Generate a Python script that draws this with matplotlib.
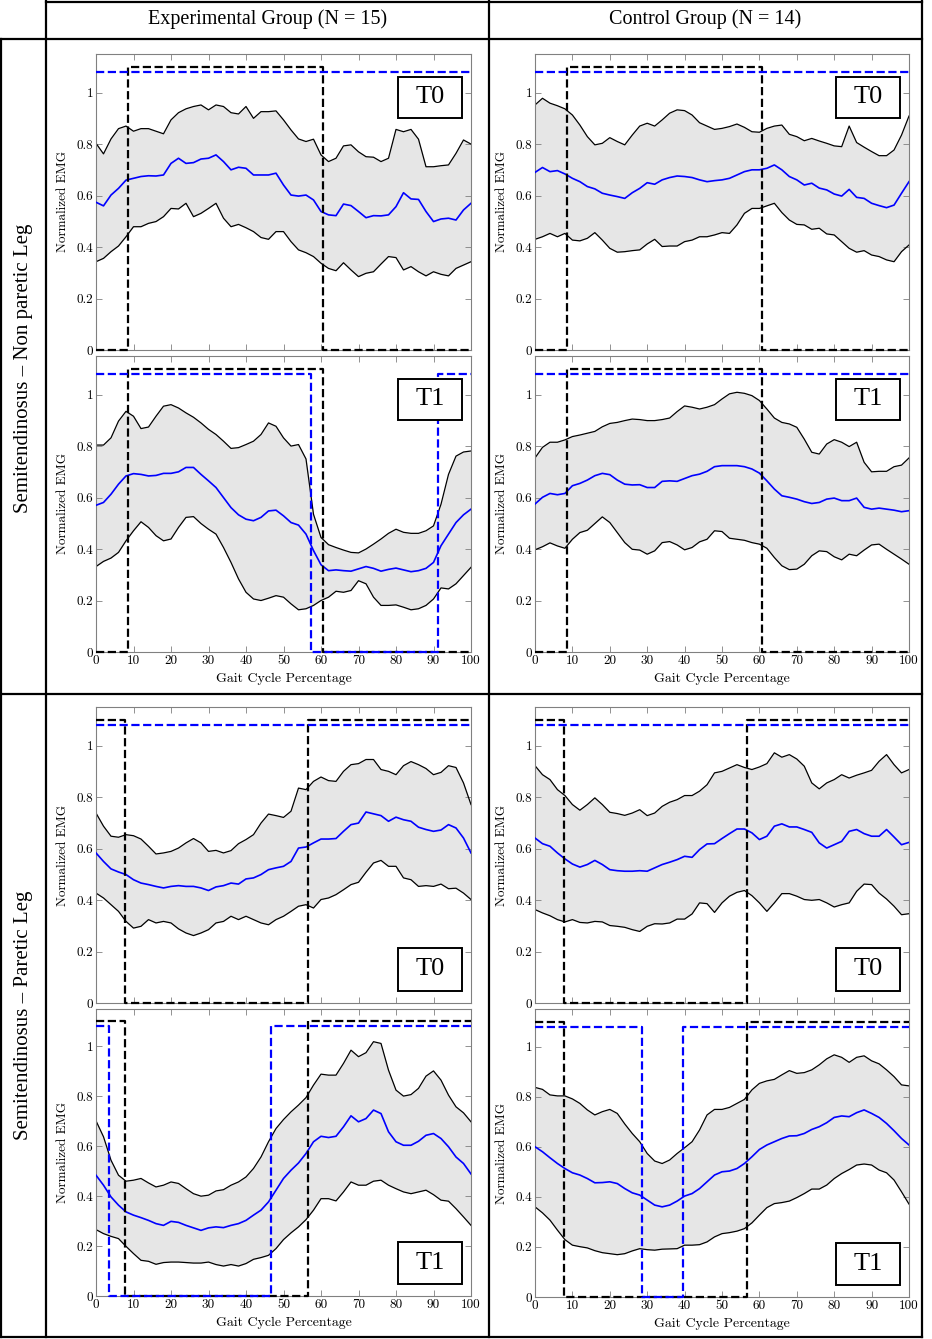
import matplotlib
matplotlib.use('Agg')
import matplotlib.pyplot as plt
from matplotlib.lines import Line2D
from matplotlib.patches import Rectangle

plt.rcParams['axes.unicode_minus'] = False

# ---------------- data ----------------
gait_pct = list(range(0, 101, 2))

col_titles = ['Experimental Group (N = 15)', 'Control Group (N = 14)']
row_titles = ['Semitendinosus \u2013 Non paretic Leg', 'Semitendinosus \u2013 Paretic Leg']
session_labels = ['T0', 'T1']
x_ticks = [0, 10, 20, 30, 40, 50, 60, 70, 80, 90, 100]
x_tick_labels = ['0', '10', '20', '30', '40', '50', '60', '70', '80', '90', '100']
y_ticks = [0, 0.2, 0.4, 0.6, 0.8, 1.0]
y_tick_labels = ['0', '0.2', '0.4', '0.6', '0.8', '1']
x_label = 'Gait Cycle Percentage'
y_label = 'Normalized EMG'

# Experimental, non paretic, T0
exp_np_t0_upper = [0.803, 0.762, 0.82, 0.86, 0.87, 0.85, 0.86, 0.86, 0.85, 0.84,
                   0.894, 0.922, 0.937, 0.946, 0.952, 0.933, 0.952, 0.946, 0.922, 0.917,
                   0.946, 0.90, 0.926, 0.926, 0.929, 0.894, 0.855, 0.82, 0.81, 0.819,
                   0.758, 0.732, 0.745, 0.793, 0.797, 0.77, 0.751, 0.749, 0.732, 0.745,
                   0.857, 0.848, 0.857, 0.819, 0.712, 0.712, 0.716, 0.719, 0.764, 0.816,
                   0.80]
exp_np_t0_mean = [0.574, 0.56, 0.602, 0.628, 0.66, 0.667, 0.674, 0.677, 0.676, 0.68,
                  0.725, 0.745, 0.725, 0.728, 0.742, 0.745, 0.758, 0.732, 0.70, 0.71,
                  0.706, 0.68, 0.68, 0.68, 0.687, 0.641, 0.602, 0.598, 0.602, 0.583,
                  0.538, 0.525, 0.522, 0.567, 0.561, 0.538, 0.514, 0.522, 0.521, 0.525,
                  0.557, 0.611, 0.587, 0.585, 0.538, 0.499, 0.509, 0.512, 0.505, 0.544,
                  0.57]
exp_np_t0_lower = [0.343, 0.356, 0.382, 0.404, 0.44, 0.479, 0.479, 0.492, 0.499, 0.518,
                   0.55, 0.548, 0.57, 0.518, 0.531, 0.55, 0.57, 0.512, 0.479, 0.488,
                   0.475, 0.46, 0.437, 0.43, 0.46, 0.46, 0.421, 0.389, 0.378, 0.363,
                   0.337, 0.317, 0.308, 0.339, 0.311, 0.285, 0.298, 0.304, 0.334, 0.363,
                   0.359, 0.311, 0.324, 0.304, 0.288, 0.304, 0.294, 0.288, 0.317, 0.33,
                   0.343]

# Experimental, non paretic, T1
exp_np_t1_upper = [0.804, 0.804, 0.832, 0.897, 0.935, 0.916, 0.868, 0.874, 0.916, 0.955,
                   0.961, 0.948, 0.929, 0.912, 0.89, 0.865, 0.845, 0.819, 0.791, 0.794,
                   0.806, 0.819, 0.845, 0.89, 0.877, 0.832, 0.80, 0.806, 0.75, 0.535,
                   0.445, 0.417, 0.406, 0.396, 0.387, 0.385, 0.40, 0.419, 0.439, 0.461,
                   0.477, 0.465, 0.461, 0.461, 0.471, 0.49, 0.574, 0.69, 0.761, 0.777,
                   0.781]
exp_np_t1_mean = [0.57, 0.581, 0.613, 0.652, 0.684, 0.693, 0.69, 0.684, 0.686, 0.694,
                  0.694, 0.70, 0.717, 0.717, 0.69, 0.665, 0.639, 0.60, 0.561, 0.533,
                  0.516, 0.51, 0.523, 0.548, 0.551, 0.529, 0.503, 0.493, 0.458, 0.394,
                  0.339, 0.316, 0.319, 0.316, 0.314, 0.323, 0.332, 0.325, 0.314, 0.321,
                  0.326, 0.319, 0.312, 0.316, 0.325, 0.348, 0.413, 0.458, 0.503, 0.533,
                  0.555]
exp_np_t1_lower = [0.332, 0.352, 0.365, 0.387, 0.432, 0.471, 0.506, 0.484, 0.452, 0.432,
                   0.439, 0.484, 0.523, 0.526, 0.499, 0.477, 0.458, 0.406, 0.348, 0.284,
                   0.232, 0.206, 0.20, 0.209, 0.219, 0.213, 0.187, 0.164, 0.168, 0.181,
                   0.20, 0.213, 0.236, 0.232, 0.239, 0.277, 0.265, 0.213, 0.181, 0.181,
                   0.183, 0.174, 0.164, 0.168, 0.181, 0.206, 0.249, 0.245, 0.265, 0.297,
                   0.329]

# Control, non paretic, T0
ctl_np_t0_upper = [0.952, 0.978, 0.959, 0.949, 0.937, 0.913, 0.874, 0.829, 0.797, 0.803,
                   0.825, 0.81, 0.797, 0.835, 0.87, 0.881, 0.87, 0.894, 0.92, 0.933,
                   0.93, 0.913, 0.883, 0.87, 0.857, 0.861, 0.868, 0.878, 0.865, 0.848,
                   0.846, 0.861, 0.87, 0.874, 0.838, 0.829, 0.813, 0.822, 0.812, 0.803,
                   0.793, 0.79, 0.87, 0.806, 0.788, 0.771, 0.755, 0.755, 0.777, 0.835,
                   0.909]
ctl_np_t0_mean = [0.69, 0.709, 0.693, 0.697, 0.684, 0.667, 0.654, 0.635, 0.626, 0.609,
                  0.602, 0.596, 0.589, 0.611, 0.628, 0.65, 0.644, 0.661, 0.67, 0.676,
                  0.674, 0.67, 0.661, 0.654, 0.658, 0.661, 0.667, 0.68, 0.693, 0.70,
                  0.70, 0.706, 0.719, 0.70, 0.674, 0.661, 0.641, 0.648, 0.629, 0.622,
                  0.606, 0.598, 0.624, 0.593, 0.589, 0.57, 0.561, 0.553, 0.563, 0.609,
                  0.654]
ctl_np_t0_lower = [0.43, 0.44, 0.453, 0.44, 0.453, 0.427, 0.424, 0.434, 0.456, 0.427,
                   0.395, 0.38, 0.382, 0.386, 0.389, 0.412, 0.43, 0.402, 0.404, 0.404,
                   0.421, 0.427, 0.44, 0.44, 0.447, 0.456, 0.453, 0.486, 0.531, 0.55,
                   0.55, 0.56, 0.57, 0.534, 0.505, 0.488, 0.486, 0.469, 0.473, 0.451,
                   0.447, 0.421, 0.395, 0.38, 0.386, 0.369, 0.363, 0.35, 0.343, 0.382,
                   0.408]

# Control, non paretic, T1
ctl_np_t1_upper = [0.754, 0.795, 0.815, 0.815, 0.824, 0.837, 0.843, 0.85, 0.857, 0.875,
                   0.888, 0.892, 0.899, 0.905, 0.903, 0.899, 0.899, 0.903, 0.909, 0.934,
                   0.956, 0.951, 0.944, 0.951, 0.961, 0.983, 1.003, 1.009, 1.005, 0.996,
                   0.977, 0.944, 0.909, 0.892, 0.886, 0.873, 0.827, 0.776, 0.769, 0.808,
                   0.825, 0.815, 0.798, 0.815, 0.737, 0.70, 0.702, 0.702, 0.72, 0.726,
                   0.754]
ctl_np_t1_mean = [0.575, 0.601, 0.616, 0.611, 0.616, 0.646, 0.655, 0.668, 0.685, 0.694,
                  0.689, 0.668, 0.652, 0.649, 0.65, 0.639, 0.639, 0.663, 0.665, 0.663,
                  0.674, 0.685, 0.691, 0.702, 0.72, 0.724, 0.724, 0.724, 0.72, 0.711,
                  0.695, 0.665, 0.633, 0.607, 0.601, 0.594, 0.584, 0.577, 0.581, 0.594,
                  0.598, 0.588, 0.588, 0.598, 0.562, 0.555, 0.559, 0.555, 0.551, 0.545,
                  0.549]
ctl_np_t1_lower = [0.397, 0.409, 0.424, 0.412, 0.403, 0.438, 0.464, 0.473, 0.499, 0.525,
                   0.503, 0.464, 0.425, 0.399, 0.396, 0.38, 0.393, 0.425, 0.429, 0.416,
                   0.397, 0.406, 0.428, 0.438, 0.471, 0.468, 0.442, 0.438, 0.434, 0.425,
                   0.419, 0.403, 0.367, 0.335, 0.32, 0.322, 0.341, 0.374, 0.393, 0.39,
                   0.37, 0.358, 0.38, 0.374, 0.396, 0.416, 0.419, 0.399, 0.38, 0.361,
                   0.341]

# Experimental, paretic, T0
exp_p_t0_upper = [0.738, 0.687, 0.648, 0.644, 0.654, 0.65, 0.637, 0.609, 0.579, 0.583,
                  0.589, 0.602, 0.622, 0.639, 0.622, 0.589, 0.593, 0.583, 0.592, 0.619,
                  0.635, 0.654, 0.699, 0.734, 0.728, 0.721, 0.745, 0.835, 0.829, 0.861,
                  0.878, 0.864, 0.861, 0.90, 0.926, 0.93, 0.946, 0.946, 0.907, 0.90,
                  0.887, 0.922, 0.938, 0.926, 0.911, 0.887, 0.896, 0.922, 0.915, 0.855,
                  0.771]
exp_p_t0_mean = [0.583, 0.55, 0.521, 0.509, 0.499, 0.479, 0.466, 0.46, 0.453, 0.447,
                 0.453, 0.456, 0.453, 0.453, 0.447, 0.437, 0.451, 0.456, 0.466, 0.462,
                 0.482, 0.486, 0.499, 0.518, 0.525, 0.531, 0.55, 0.602, 0.606, 0.622,
                 0.637, 0.637, 0.639, 0.667, 0.693, 0.699, 0.742, 0.735, 0.728, 0.706,
                 0.722, 0.712, 0.706, 0.683, 0.674, 0.667, 0.672, 0.693, 0.68, 0.641,
                 0.583]
exp_p_t0_lower = [0.427, 0.408, 0.382, 0.356, 0.317, 0.291, 0.298, 0.324, 0.311, 0.317,
                  0.311, 0.288, 0.272, 0.262, 0.272, 0.285, 0.311, 0.317, 0.337, 0.324,
                  0.337, 0.324, 0.311, 0.304, 0.324, 0.337, 0.356, 0.376, 0.382, 0.369,
                  0.402, 0.408, 0.421, 0.44, 0.46, 0.469, 0.508, 0.544, 0.554, 0.531,
                  0.531, 0.486, 0.479, 0.453, 0.456, 0.453, 0.462, 0.444, 0.446, 0.427,
                  0.402]

# Experimental, paretic, T1
exp_p_t1_upper = [0.702, 0.638, 0.544, 0.484, 0.46, 0.464, 0.471, 0.453, 0.437, 0.444,
                  0.457, 0.451, 0.43, 0.41, 0.40, 0.404, 0.421, 0.426, 0.444, 0.457,
                  0.477, 0.511, 0.557, 0.618, 0.671, 0.707, 0.738, 0.765, 0.795, 0.845,
                  0.889, 0.885, 0.885, 0.932, 0.985, 0.959, 0.975, 1.019, 1.012, 0.905,
                  0.825, 0.801, 0.807, 0.832, 0.881, 0.902, 0.865, 0.805, 0.758, 0.734,
                  0.698]
exp_p_t1_mean = [0.484, 0.444, 0.397, 0.364, 0.337, 0.324, 0.314, 0.303, 0.29, 0.283,
                 0.299, 0.295, 0.283, 0.273, 0.263, 0.273, 0.277, 0.274, 0.283, 0.29,
                 0.303, 0.324, 0.344, 0.377, 0.424, 0.471, 0.504, 0.533, 0.571, 0.618,
                 0.64, 0.635, 0.64, 0.678, 0.722, 0.698, 0.711, 0.745, 0.731, 0.658,
                 0.618, 0.604, 0.604, 0.62, 0.644, 0.651, 0.631, 0.598, 0.557, 0.531,
                 0.489]
exp_p_t1_lower = [0.266, 0.25, 0.239, 0.23, 0.199, 0.17, 0.143, 0.139, 0.127, 0.134,
                  0.136, 0.136, 0.134, 0.132, 0.132, 0.136, 0.126, 0.12, 0.126, 0.12,
                  0.13, 0.147, 0.154, 0.163, 0.19, 0.226, 0.253, 0.277, 0.306, 0.344,
                  0.39, 0.39, 0.381, 0.417, 0.457, 0.444, 0.444, 0.46, 0.464, 0.444,
                  0.43, 0.417, 0.41, 0.417, 0.424, 0.406, 0.384, 0.38, 0.35, 0.317,
                  0.283]

# Control, paretic, T0
ctl_p_t0_upper = [0.922, 0.887, 0.868, 0.829, 0.806, 0.771, 0.749, 0.771, 0.797, 0.771,
                  0.741, 0.736, 0.729, 0.738, 0.751, 0.728, 0.738, 0.764, 0.78, 0.79,
                  0.806, 0.806, 0.823, 0.848, 0.894, 0.90, 0.913, 0.926, 0.915, 0.907,
                  0.917, 0.93, 0.972, 0.955, 0.965, 0.948, 0.92, 0.855, 0.832, 0.855,
                  0.868, 0.887, 0.874, 0.885, 0.894, 0.904, 0.939, 0.965, 0.926, 0.894,
                  0.907]
ctl_p_t0_mean = [0.641, 0.619, 0.609, 0.583, 0.56, 0.54, 0.528, 0.538, 0.554, 0.538,
                 0.518, 0.514, 0.512, 0.512, 0.514, 0.512, 0.525, 0.538, 0.547, 0.557,
                 0.57, 0.566, 0.596, 0.618, 0.619, 0.639, 0.658, 0.676, 0.676, 0.661,
                 0.635, 0.648, 0.687, 0.696, 0.684, 0.684, 0.674, 0.663, 0.622, 0.602,
                 0.615, 0.628, 0.667, 0.674, 0.658, 0.648, 0.648, 0.674, 0.645, 0.615,
                 0.624]
ctl_p_t0_lower = [0.363, 0.35, 0.339, 0.324, 0.315, 0.324, 0.313, 0.311, 0.317, 0.315,
                  0.301, 0.298, 0.294, 0.285, 0.278, 0.298, 0.308, 0.307, 0.311, 0.326,
                  0.326, 0.346, 0.389, 0.386, 0.352, 0.389, 0.415, 0.43, 0.437, 0.417,
                  0.389, 0.356, 0.389, 0.425, 0.425, 0.415, 0.402, 0.399, 0.402, 0.389,
                  0.373, 0.382, 0.389, 0.434, 0.462, 0.46, 0.427, 0.404, 0.376, 0.343,
                  0.347]

# Control, paretic, T1
ctl_p_t1_upper = [0.837, 0.829, 0.807, 0.803, 0.803, 0.791, 0.773, 0.747, 0.727, 0.74,
                  0.749, 0.733, 0.691, 0.653, 0.62, 0.573, 0.543, 0.533, 0.547, 0.573,
                  0.596, 0.62, 0.667, 0.727, 0.749, 0.749, 0.757, 0.773, 0.789, 0.827,
                  0.853, 0.863, 0.869, 0.887, 0.904, 0.893, 0.896, 0.907, 0.927, 0.951,
                  0.967, 0.957, 0.937, 0.957, 0.963, 0.943, 0.931, 0.907, 0.88, 0.847,
                  0.843]
ctl_p_t1_mean = [0.60, 0.58, 0.556, 0.533, 0.513, 0.496, 0.487, 0.473, 0.456, 0.457,
                 0.46, 0.453, 0.433, 0.416, 0.407, 0.387, 0.367, 0.36, 0.367, 0.383,
                 0.403, 0.413, 0.433, 0.46, 0.487, 0.50, 0.503, 0.513, 0.533, 0.56,
                 0.589, 0.607, 0.62, 0.633, 0.643, 0.644, 0.653, 0.669, 0.68, 0.696,
                 0.717, 0.723, 0.72, 0.736, 0.747, 0.733, 0.717, 0.693, 0.664, 0.633,
                 0.607]
ctl_p_t1_lower = [0.36, 0.336, 0.307, 0.267, 0.229, 0.207, 0.201, 0.196, 0.185, 0.177,
                  0.173, 0.169, 0.173, 0.184, 0.193, 0.189, 0.187, 0.191, 0.192, 0.193,
                  0.207, 0.207, 0.209, 0.22, 0.24, 0.253, 0.257, 0.263, 0.273, 0.296,
                  0.327, 0.357, 0.373, 0.377, 0.383, 0.397, 0.413, 0.431, 0.431, 0.447,
                  0.473, 0.493, 0.509, 0.527, 0.531, 0.527, 0.507, 0.496, 0.467, 0.42,
                  0.371]

# Activation phases (gait %, where the on/off state switches) and starting state
exp_np_t0_ref_switch, exp_np_t0_ref_on = [8.5, 60.6], False
exp_np_t0_act_switch, exp_np_t0_act_on = [], True
exp_np_t1_ref_switch, exp_np_t1_ref_on = [8.5, 60.6], False
exp_np_t1_act_switch, exp_np_t1_act_on = [57.4, 91.2], True
ctl_np_t0_ref_switch, ctl_np_t0_ref_on = [8.5, 60.7], False
ctl_np_t0_act_switch, ctl_np_t0_act_on = [], True
ctl_np_t1_ref_switch, ctl_np_t1_ref_on = [8.5, 60.7], False
ctl_np_t1_act_switch, ctl_np_t1_act_on = [], True
exp_p_t0_ref_switch, exp_p_t0_ref_on = [7.8, 56.6], True
exp_p_t0_act_switch, exp_p_t0_act_on = [], True
exp_p_t1_ref_switch, exp_p_t1_ref_on = [7.8, 56.6], True
exp_p_t1_act_switch, exp_p_t1_act_on = [3.5, 46.6], True
ctl_p_t0_ref_switch, ctl_p_t0_ref_on = [7.7, 56.6], True
ctl_p_t0_act_switch, ctl_p_t0_act_on = [], True
ctl_p_t1_ref_switch, ctl_p_t1_ref_on = [7.8, 56.8], True
ctl_p_t1_act_switch, ctl_p_t1_act_on = [28.5, 39.6], True

# ---------------- layout ----------------
W, H = 932, 1339
fig = plt.figure(figsize=(W / 100, H / 100), dpi=100)

REF_LEVEL = 1.10
ACT_LEVEL = 1.08


def fx(x):
    return x / W


def fy(y):
    return 1 - y / H


def step_xy(switches, start_on, level):
    xs = [0]
    state = start_on
    ys = [level if state else 0]
    for s in switches:
        xs += [s, s]
        ys += [level if state else 0, 0 if state else level]
        state = not state
    xs.append(100)
    ys.append(level if state else 0)
    return xs, ys


panels = [
    (0, (54, 350), exp_np_t0_upper, exp_np_t0_mean, exp_np_t0_lower,
     (exp_np_t0_ref_switch, exp_np_t0_ref_on), (exp_np_t0_act_switch, exp_np_t0_act_on), 0, True, False),
    (0, (356, 652), exp_np_t1_upper, exp_np_t1_mean, exp_np_t1_lower,
     (exp_np_t1_ref_switch, exp_np_t1_ref_on), (exp_np_t1_act_switch, exp_np_t1_act_on), 1, True, True),
    (1, (54, 350), ctl_np_t0_upper, ctl_np_t0_mean, ctl_np_t0_lower,
     (ctl_np_t0_ref_switch, ctl_np_t0_ref_on), (ctl_np_t0_act_switch, ctl_np_t0_act_on), 0, True, False),
    (1, (356, 652), ctl_np_t1_upper, ctl_np_t1_mean, ctl_np_t1_lower,
     (ctl_np_t1_ref_switch, ctl_np_t1_ref_on), (ctl_np_t1_act_switch, ctl_np_t1_act_on), 1, True, True),
    (0, (707, 1003), exp_p_t0_upper, exp_p_t0_mean, exp_p_t0_lower,
     (exp_p_t0_ref_switch, exp_p_t0_ref_on), (exp_p_t0_act_switch, exp_p_t0_act_on), 0, False, False),
    (0, (1009, 1296), exp_p_t1_upper, exp_p_t1_mean, exp_p_t1_lower,
     (exp_p_t1_ref_switch, exp_p_t1_ref_on), (exp_p_t1_act_switch, exp_p_t1_act_on), 1, False, True),
    (1, (707, 1003), ctl_p_t0_upper, ctl_p_t0_mean, ctl_p_t0_lower,
     (ctl_p_t0_ref_switch, ctl_p_t0_ref_on), (ctl_p_t0_act_switch, ctl_p_t0_act_on), 0, False, False),
    (1, (1009, 1297), ctl_p_t1_upper, ctl_p_t1_mean, ctl_p_t1_lower,
     (ctl_p_t1_ref_switch, ctl_p_t1_ref_on), (ctl_p_t1_act_switch, ctl_p_t1_act_on), 1, False, True),
]

col_left = [96, 535]
col_width = [375, 374]
spine_col = '#808080'

for col, (top, bot), up, mean, low, ref, act, lab, lab_top, show_x in panels:
    ax = fig.add_axes([fx(col_left[col]), fy(bot), col_width[col] / W, (bot - top) / H])
    ax.set_xlim(0, 100)
    ax.set_ylim(0, 1.15)
    ax.fill_between(gait_pct, low, up, color='#e6e6e6', lw=0, zorder=1)
    ax.plot(gait_pct, up, color='black', lw=0.9, zorder=2, solid_joinstyle='round')
    ax.plot(gait_pct, low, color='black', lw=0.9, zorder=2, solid_joinstyle='round')
    ax.plot(gait_pct, mean, color='#0000ff', lw=1.2, zorder=3, solid_joinstyle='round')

    rx, ry = step_xy(ref[0], ref[1], REF_LEVEL)
    ax.plot(rx, ry, color='black', lw=1.6, ls='--', zorder=4, clip_on=False)
    bx, by = step_xy(act[0], act[1], ACT_LEVEL)
    ax.plot(bx, by, color='#0000ff', lw=1.6, ls='--', zorder=4, clip_on=False)

    if lab_top:
        by0, by1 = 0.785, 0.922
    else:
        by0, by1 = 0.042, 0.187
    ax.add_patch(Rectangle((0.805, by0), 0.172, by1 - by0, transform=ax.transAxes,
                           fc='white', ec='black', lw=1.4, zorder=6))
    ax.text(0.891, (by0 + by1) / 2, session_labels[lab], transform=ax.transAxes,
            ha='center', va='center', fontsize=19, family='Liberation Serif', zorder=7)

    for sp in ax.spines.values():
        sp.set_color(spine_col)
        sp.set_linewidth(0.8)
    ax.tick_params(direction='in', top=True, right=True, length=4, width=0.6,
                   color=spine_col, labelcolor='black', pad=2)
    ax.set_xticks(x_ticks)
    ax.set_yticks(y_ticks)
    ax.set_yticklabels(y_tick_labels, fontfamily='cmr10', fontsize=9.5)
    if show_x:
        ax.set_xticklabels(x_tick_labels, fontfamily='cmr10', fontsize=9.5)
        ax.set_xlabel(x_label, fontfamily='cmr10', fontsize=10)
        ax.xaxis.label.set_va('center')
        ax.xaxis.set_label_coords(0.5, -27 / (bot - top))
    else:
        ax.tick_params(labelbottom=False)
    ax.set_ylabel(y_label, fontfamily='cmr10', fontsize=9.5)
    ax.yaxis.label.set_va('center')
    ax.yaxis.set_label_coords(-33 / col_width[col], 0.5)

# ---------------- table frame ----------------
frame_lines = [
    ((46, 1.5), (922, 1.5)),
    ((0, 38.5), (922, 38.5)),
    ((0, 694), (922, 694)),
    ((0, 1337), (922, 1337)),
    ((1, 38.5), (1, 1337)),
    ((46, 0), (46, 1337)),
    ((489, 0), (489, 1337)),
    ((922, 0), (922, 1337)),
]
for (x0, y0), (x1, y1) in frame_lines:
    fig.add_artist(Line2D([fx(x0), fx(x1)], [fy(y0), fy(y1)], transform=fig.transFigure,
                          color='black', lw=1.6, solid_capstyle='projecting'))

fig.text(fx(267.5), fy(19.5), col_titles[0], ha='center', va='center',
         fontsize=14.5, family='Liberation Serif')
fig.text(fx(705.5), fy(19.5), col_titles[1], ha='center', va='center',
         fontsize=14.5, family='Liberation Serif')
fig.text(fx(24), fy(368), row_titles[0], ha='center', va='center', rotation=90,
         fontsize=15, family='Liberation Serif')
fig.text(fx(24), fy(1015), row_titles[1], ha='center', va='center', rotation=90,
         fontsize=15, family='Liberation Serif')

fig.savefig('out.png', dpi=100, facecolor='white')
